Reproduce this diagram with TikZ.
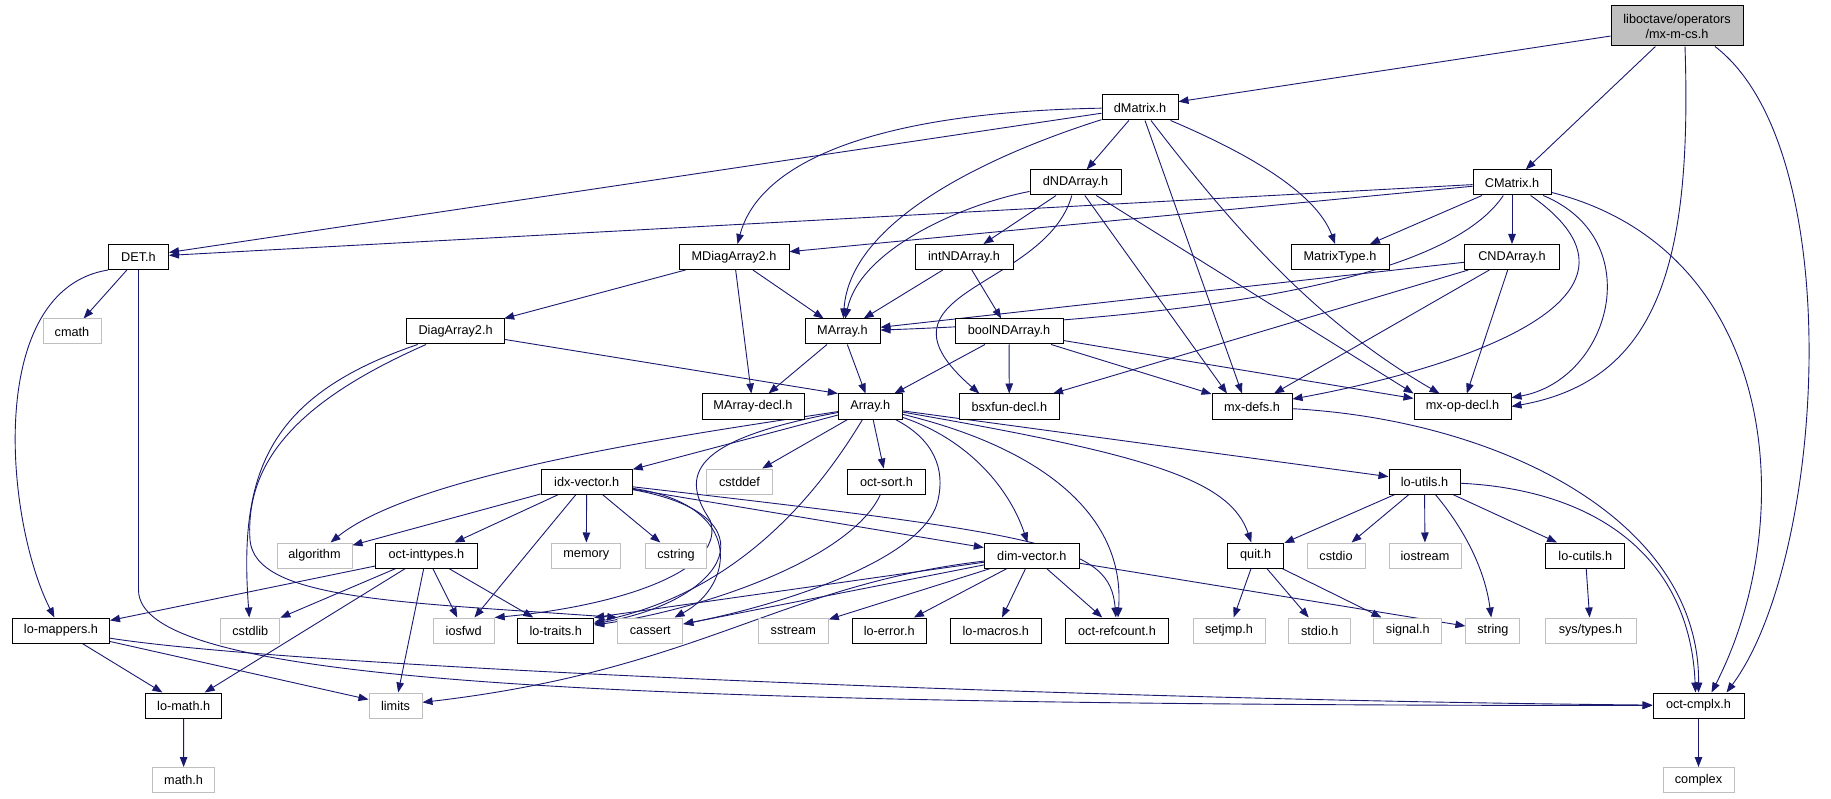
\documentclass[tikz,border=0pt]{standalone}
\usepackage{fontspec}
\setmainfont{Liberation Sans}
\usetikzlibrary{arrows.meta,backgrounds}
\definecolor{edgeblue}{HTML}{191970}
\definecolor{sysgray}{HTML}{BFBFBF}
\begin{document}
\begin{tikzpicture}[x=1pt,y=1pt,
    hdr/.style={draw=black, line width=1pt, fill=white, inner sep=0pt, minimum height=25pt, font=\fontsize{12.7}{15}\selectfont},
    sys/.style={hdr, draw=sysgray},
    dep/.style={edgeblue, line width=0.9pt, -{Triangle[length=10pt,width=7.5pt]}}]
    \useasboundingbox (0,0) rectangle (1831,-799);
    \node[hdr, fill=sysgray, minimum width=132pt, minimum height=40pt, align=center] (mxmcs) at (1677,-26) {liboctave/operators\\/mx-m-cs.h};
    \node[hdr, minimum width=76pt] (dMatrix) at (1140,-107.5) {dMatrix.h};
    \node[hdr, minimum width=91pt] (dNDArray) at (1075.5,-182.5) {dNDArray.h};
    \node[hdr, minimum width=78pt] (CMatrix) at (1512,-182.5) {CMatrix.h};
    \node[hdr, minimum width=60pt] (DET) at (138.5,-257) {DET.h};
    \node[hdr, minimum width=110pt] (MDiagArray) at (734,-257) {MDiagArray2.h};
    \node[hdr, minimum width=98pt] (intNDArray) at (964,-257) {intNDArray.h};
    \node[hdr, minimum width=98pt] (MatrixType) at (1340,-257) {MatrixType.h};
    \node[hdr, minimum width=95pt] (CNDArray) at (1512,-257) {CNDArray.h};
    \node[sys, minimum width=58pt] (cmath) at (72,-331.5) {cmath};
    \node[hdr, minimum width=98pt] (DiagArray) at (455.6,-331.5) {DiagArray2.h};
    \node[hdr, minimum width=75pt] (MArray) at (842.5,-331.5) {MArray.h};
    \node[hdr, minimum width=108pt] (boolNDArray) at (1009,-331.5) {boolNDArray.h};
    \node[hdr, minimum width=102pt] (MArraydecl) at (753,-406.5) {MArray-decl.h};
    \node[hdr, minimum width=64pt] (Array) at (870.3,-406.5) {Array.h};
    \node[hdr, minimum width=100pt] (bsxfundecl) at (1009.3,-406.5) {bsxfun-decl.h};
    \node[hdr, minimum width=80pt] (mxdefs) at (1252,-406.5) {mx-defs.h};
    \node[hdr, minimum width=97pt] (mxopdecl) at (1462.5,-406.5) {mx-op-decl.h};
    \node[hdr, minimum width=91pt] (idxvector) at (586.7,-481.5) {idx-vector.h};
    \node[sys, minimum width=66pt] (cstddef) at (739.5,-481.5) {cstddef};
    \node[hdr, minimum width=78pt] (octsort) at (886.5,-481.5) {oct-sort.h};
    \node[hdr, minimum width=71pt] (loutils) at (1424.5,-481.5) {lo-utils.h};
    \node[sys, minimum width=75pt] (algorithm) at (314.5,-555.5) {algorithm};
    \node[hdr, minimum width=102pt] (octinttypes) at (426.4,-555.5) {oct-inttypes.h};
    \node[sys, minimum width=69pt] (memory) at (586.3,-555.5) {memory};
    \node[sys, minimum width=61pt] (cstring) at (676,-555.5) {cstring};
    \node[hdr, minimum width=95pt] (dimvector) at (1031.8,-555.5) {dim-vector.h};
    \node[hdr, minimum width=56pt] (quit) at (1255.7,-555.5) {quit.h};
    \node[sys, minimum width=58pt] (cstdio) at (1336,-555.5) {cstdio};
    \node[sys, minimum width=72pt] (iostream) at (1425,-555.5) {iostream};
    \node[hdr, minimum width=79pt] (locutils) at (1585.3,-555.5) {lo-cutils.h};
    \node[hdr, minimum width=97pt] (lomappers) at (61,-630.5) {lo-mappers.h};
    \node[sys, minimum width=59pt] (cstdlib) at (250.3,-630.5) {cstdlib};
    \node[sys, minimum width=61pt] (iosfwd) at (463.7,-630.5) {iosfwd};
    \node[hdr, minimum width=76pt] (lotraits) at (555.7,-630.5) {lo-traits.h};
    \node[sys, minimum width=65pt] (cassert) at (650.3,-630.5) {cassert};
    \node[sys, minimum width=70pt] (sstream) at (793.3,-630.5) {sstream};
    \node[hdr, minimum width=74pt] (loerror) at (889.2,-630.5) {lo-error.h};
    \node[hdr, minimum width=91pt] (lomacros) at (995.8,-630.5) {lo-macros.h};
    \node[hdr, minimum width=103pt] (octrefcount) at (1117,-630.5) {oct-refcount.h};
    \node[sys, minimum width=72pt] (setjmp) at (1229,-630.5) {setjmp.h};
    \node[sys, minimum width=62pt] (stdio) at (1319.8,-630.5) {stdio.h};
    \node[sys, minimum width=68pt] (signal) at (1407.8,-630.5) {signal.h};
    \node[sys, minimum width=54pt] (string) at (1492.9,-630.5) {string};
    \node[sys, minimum width=91pt] (systypes) at (1590.5,-630.5) {sys/types.h};
    \node[hdr, minimum width=76pt] (lomath) at (183.7,-705.5) {lo-math.h};
    \node[sys, minimum width=53pt] (limits) at (395.5,-705.5) {limits};
    \node[hdr, minimum width=91pt] (octcmplx) at (1698.5,-705.5) {oct-cmplx.h};
    \node[sys, minimum width=62pt] (mathh) at (183.6,-780) {math.h};
    \node[sys, minimum width=71pt] (complex) at (1698.5,-780) {complex};
    \begin{pgfonlayer}{background}
    % mx-m-cs.h
    \draw[dep] (mxmcs) -- (dMatrix);
    \draw[dep] (mxmcs) -- (CMatrix);
    \draw[dep] ([xshift=8pt]mxmcs.south) .. controls (1692,-260) and (1660,-380) .. (mxopdecl.east);
    \draw[dep] ([xshift=38pt]mxmcs.south) .. controls (1850,-150) and (1825,-560) .. ([xshift=28pt]octcmplx.north);
    % dMatrix.h
    \draw[dep] (dMatrix) -- (DET);
    \draw[dep] (dMatrix) .. controls (880,-112) and (760,-160) .. (MDiagArray);
    \draw[dep] (dMatrix) .. controls (990,-155) and (850,-220) .. (MArray);
    \draw[dep] (dMatrix) -- (dNDArray);
    \draw[dep] ([xshift=5pt]dMatrix.south) -- ([xshift=-10pt]mxdefs.north);
    \draw[dep] ([xshift=11pt]dMatrix.south) .. controls (1250,-250) and (1330,-330) .. ([xshift=-23pt]mxopdecl.north);
    \draw[dep] (dMatrix) .. controls (1240,-150) and (1315,-190) .. (MatrixType);
    % dNDArray.h
    \draw[dep] (dNDArray) .. controls (960,-205) and (860,-250) .. (MArray);
    \draw[dep] (dNDArray) -- (intNDArray);
    \draw[dep] (dNDArray) .. controls (1045,-290) and (860,-290) .. ([xshift=-30pt]bsxfundecl.north);
    \draw[dep] (dNDArray) -- ([xshift=-25pt]mxdefs.north);
    \draw[dep] (dNDArray) -- (mxopdecl.north west);
    % CMatrix.h
    \draw[dep] (CMatrix) -- (DET);
    \draw[dep] (CMatrix) -- (MDiagArray);
    \draw[dep] (CMatrix) -- (MatrixType);
    \draw[dep] (CMatrix) -- (CNDArray);
    \draw[dep] (CMatrix) .. controls (1440,-290) and (1150,-320) .. (MArray);
    \draw[dep] (CMatrix) .. controls (1680,-300) and (1450,-370) .. (mxdefs);
    \draw[dep] (CMatrix) .. controls (1650,-240) and (1610,-380) .. (mxopdecl);
    \draw[dep] (CMatrix) .. controls (1780,-250) and (1800,-520) .. ([xshift=13pt]octcmplx.north);
    % CNDArray.h
    \draw[dep] (CNDArray) -- (MArray);
    \draw[dep] (CNDArray) -- (bsxfundecl);
    \draw[dep] (CNDArray) -- ([xshift=22pt]mxdefs.north);
    \draw[dep] (CNDArray) -- (mxopdecl);
    % DET.h
    \draw[dep] (DET) -- (cmath);
    \draw[dep] (DET.south west) .. controls (-15,-290) and (5,-520) .. (lomappers);
    \draw[dep] (DET.south) -- ++(0,-320) .. controls +(0,-90) and +(-1100,0) .. (octcmplx.west);
    % MDiagArray2.h, DiagArray2.h, MArray.h
    \draw[dep] (MDiagArray) -- (DiagArray);
    \draw[dep] (MDiagArray) -- (MArray);
    \draw[dep] (MDiagArray) -- (MArraydecl);
    \draw[dep] (DiagArray) -- (Array.north west);
    \draw[dep] (DiagArray) .. controls (270,-395) and (238,-470) .. (cstdlib);
    \draw[dep] (DiagArray) .. controls (300,-400) and (245,-460) .. (250,-540) .. controls (255,-600) and (400,-602) .. (cassert.north west);
    \draw[dep] (MArray) -- (MArraydecl);
    \draw[dep] (MArray) -- (Array);
    % intNDArray.h, boolNDArray.h
    \draw[dep] (intNDArray) -- (MArray);
    \draw[dep] (intNDArray) -- (boolNDArray);
    \draw[dep] (boolNDArray) -- (Array);
    \draw[dep] (boolNDArray) -- (bsxfundecl);
    \draw[dep] (boolNDArray) -- (mxdefs);
    \draw[dep] (boolNDArray) -- (mxopdecl);
    \draw[dep] (mxdefs) .. controls (1500,-420) and (1700,-520) .. (octcmplx.north);
    % Array.h
    \draw[dep] (Array) -- (idxvector);
    \draw[dep] (Array) .. controls (720,-430) and (420,-470) .. (algorithm);
    \draw[dep] (Array) -- (cstddef);
    \draw[dep] (Array) -- (octsort);
    \draw[dep] (Array) .. controls (970,-440) and (1010,-490) .. (dimvector);
    \draw[dep] (Array) .. controls (1050,-450) and (1125,-520) .. (octrefcount);
    \draw[dep] (Array) -- (loutils);
    \draw[dep] (Array) .. controls (1150,-455) and (1230,-480) .. (quit);
    \draw[dep] (Array) .. controls (790,-540) and (700,-600) .. (lotraits);
    \draw[dep] (Array) .. controls (935,-440) and (945,-470) .. (938,-500) .. controls (925,-560) and (780,-605) .. (cassert);
    \draw[dep] (Array) .. controls (690,-440) and (680,-475) .. (710,-520) .. controls (728,-570) and (620,-606) .. (iosfwd.north east);
    \draw[dep] (octsort) .. controls (850,-560) and (700,-610) .. (lotraits);
    % idx-vector.h
    \draw[dep] (idxvector) -- (algorithm);
    \draw[dep] (idxvector) -- (octinttypes);
    \draw[dep] (idxvector) -- (iosfwd);
    \draw[dep] (idxvector) -- (memory);
    \draw[dep] (idxvector) -- (cstring);
    \draw[dep] (idxvector) .. controls (745,-505) and (735,-585) .. (cassert);
    \draw[dep] (idxvector) .. controls (775,-515) and (730,-600) .. (lotraits);
    \draw[dep] (idxvector) -- (dimvector);
    \draw[dep] (idxvector) .. controls (1050,-535) and (1110,-545) .. (octrefcount);
    % oct-inttypes.h
    \draw[dep] (octinttypes) -- (lomappers);
    \draw[dep] (octinttypes) -- (cstdlib);
    \draw[dep] (octinttypes) -- (lomath);
    \draw[dep] (octinttypes) -- (limits);
    \draw[dep] (octinttypes) -- (iosfwd);
    \draw[dep] (octinttypes) -- (lotraits);
    % dim-vector.h
    \draw[dep] (dimvector) -- (cassert);
    \draw[dep] (dimvector) -- (lotraits.north east);
    \draw[dep] (dimvector) -- (sstream);
    \draw[dep] (dimvector) -- (loerror);
    \draw[dep] (dimvector) -- (lomacros);
    \draw[dep] (dimvector) -- (octrefcount);
    \draw[dep] (dimvector) -- (string);
    \draw[dep] (dimvector) .. controls (780,-585) and (700,-670) .. (limits);
    % quit.h, lo-utils.h
    \draw[dep] (quit) -- (setjmp);
    \draw[dep] (quit) -- (stdio);
    \draw[dep] (quit) -- (signal);
    \draw[dep] (loutils) -- (quit);
    \draw[dep] (loutils) -- (cstdio);
    \draw[dep] (loutils) -- (iostream);
    \draw[dep] (loutils) .. controls (1465,-530) and (1485,-570) .. (string);
    \draw[dep] (loutils) -- (locutils);
    \draw[dep] (loutils) .. controls (1600,-490) and (1690,-560) .. ([xshift=-3pt]octcmplx.north);
    \draw[dep] (locutils) -- (systypes);
    % lo-mappers.h and below
    \draw[dep] (lomappers) -- (lomath);
    \draw[dep] (lomappers) -- (limits);
    \draw[dep] (lomappers) .. controls (300,-668) and (1100,-700) .. (octcmplx);
    \draw[dep] (lomath) -- (mathh);
    \draw[dep] (octcmplx) -- (complex);
    \end{pgfonlayer}
\end{tikzpicture}
\end{document}
